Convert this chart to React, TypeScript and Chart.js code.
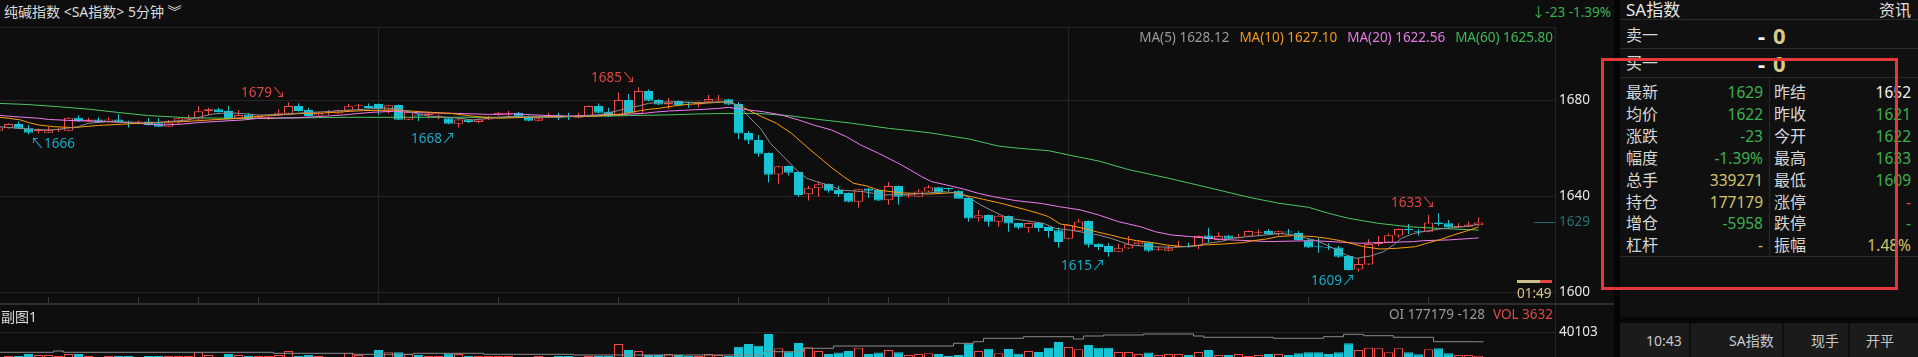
import React, { useEffect, useRef } from 'react';
import { Chart, registerables } from 'chart.js';

Chart.register(...registerables);

// ---------------- data ----------------
const openP = [
  1667.2, 1668.2, 1670.0, 1668.2, 1667.1, 1666.4, 1667.4, 1667.2, 1672.6, 1671.0,
  1671.9, 1670.8, 1671.9, 1671.0, 1670.6, 1671.0, 1670.3, 1668.9, 1670.7, 1672.0,
  1671.9, 1675.3, 1676.2, 1675.4, 1672.4, 1674.0, 1672.4, 1672.0, 1673.5, 1674.3,
  1677.5, 1675.8, 1673.5, 1674.8, 1674.4, 1675.6, 1677.4, 1677.5, 1678.3, 1675.6,
  1677.9, 1671.8, 1673.5, 1673.8, 1673.0, 1672.4, 1670.1, 1671.9, 1670.8, 1671.9,
  1673.6, 1674.3, 1674.7, 1673.1, 1671.4, 1672.9, 1673.7, 1673.0, 1672.6, 1673.1,
  1677.5, 1675.1, 1673.3, 1680.0, 1674.2, 1683.75, 1680.0, 1678.1, 1679.6, 1678.7,
  1678.1, 1679.3, 1680.2, 1680.3, 1678.3, 1666.25, 1663.3, 1657.9, 1649.0, 1652.5,
  1650.0, 1640.7, 1643.2, 1645.0, 1642.5, 1641.25, 1637.6, 1643.1, 1642.5, 1638.2,
  1644.2, 1639.9, 1639.7, 1641.9, 1643.6, 1643.0, 1642.2, 1639.2, 1630.7, 1632.1,
  1629.3, 1631.7, 1628.75, 1626.8, 1628.75, 1627.1, 1625.7, 1622.2, 1625.3, 1629.6,
  1620.1, 1619.2, 1616.8, 1618.1, 1619.9, 1620.7, 1617.4, 1617.2, 1618.8, 1619.1,
  1619.3, 1623.5, 1621.7, 1623.5, 1622.5, 1623.1, 1624.7, 1625.4, 1624.2, 1624.9,
  1624.6, 1621.5, 1618.7, 1618.3, 1618.5, 1615.0, 1609.4, 1611.5, 1619.9, 1620.6,
  1623.5, 1625.9, 1625.2, 1625.1, 1629.0, 1628.6, 1627.0, 1627.2, 1627.8,
];
const highP = [
  1668.9, 1670.3, 1671.0, 1669.6, 1668.1, 1668.9, 1668.2, 1672.8, 1673.6, 1672.6,
  1672.8, 1672.8, 1674.3, 1671.4, 1671.5, 1672.5, 1672.4, 1671.7, 1672.6, 1673.8,
  1677.5, 1676.8, 1676.8, 1677.5, 1675.8, 1674.6, 1673.9, 1673.2, 1676.1, 1679.0,
  1678.5, 1676.7, 1675.0, 1675.8, 1676.0, 1678.3, 1678.3, 1678.5, 1678.5, 1678.0,
  1678.1, 1675.3, 1674.5, 1674.5, 1673.9, 1672.6, 1672.1, 1672.1, 1672.3, 1673.4,
  1675.0, 1675.4, 1675.0, 1673.5, 1672.6, 1674.7, 1674.7, 1674.7, 1674.7, 1677.7,
  1678.5, 1676.8, 1683.1, 1682.5, 1685.3, 1684.4, 1680.3, 1680.8, 1679.8, 1679.3,
  1679.5, 1682.1, 1682.1, 1680.5, 1679.2, 1667.1, 1665.4, 1658.1, 1652.6, 1652.7,
  1650.2, 1644.2, 1646.0, 1645.2, 1644.3, 1641.5, 1643.0, 1643.3, 1642.7, 1645.8,
  1644.4, 1641.1, 1642.9, 1644.6, 1643.8, 1643.4, 1642.4, 1639.4, 1634.2, 1632.3,
  1632.0, 1631.9, 1629.0, 1629.0, 1629.0, 1627.3, 1626.9, 1628.0, 1630.4, 1629.8,
  1620.3, 1620.3, 1620.0, 1623.3, 1621.7, 1620.9, 1618.9, 1619.3, 1621.4, 1620.5,
  1623.5, 1626.8, 1624.9, 1623.7, 1624.2, 1625.6, 1626.1, 1626.2, 1625.5, 1626.2,
  1625.4, 1622.4, 1622.4, 1620.3, 1619.2, 1615.2, 1614.0, 1622.0, 1623.3, 1624.4,
  1626.45, 1628.3, 1626.1, 1632.1, 1632.8, 1630.0, 1628.6, 1629.5, 1631.0,
];
const lowP = [
  1666.9, 1668.0, 1667.9, 1665.6, 1666.0, 1666.2, 1666.7, 1667.0, 1670.8, 1670.8,
  1670.5, 1670.6, 1670.5, 1668.5, 1669.9, 1669.4, 1668.7, 1668.7, 1669.6, 1671.0,
  1671.7, 1673.8, 1674.8, 1671.9, 1672.2, 1671.8, 1672.2, 1671.8, 1673.3, 1674.1,
  1675.2, 1672.6, 1673.3, 1673.8, 1674.2, 1675.4, 1676.1, 1676.5, 1673.9, 1674.4,
  1671.6, 1671.6, 1671.3, 1672.4, 1672.0, 1669.9, 1668.5, 1670.4, 1670.3, 1671.7,
  1673.4, 1673.1, 1672.9, 1671.2, 1671.0, 1672.4, 1671.7, 1671.7, 1672.4, 1672.9,
  1674.5, 1672.9, 1673.1, 1674.2, 1674.0, 1679.5, 1677.9, 1676.25, 1677.7, 1676.8,
  1677.0, 1679.1, 1679.6, 1677.9, 1663.75, 1661.7, 1656.4, 1645.6, 1645.1, 1648.5,
  1639.7, 1638.1, 1639.7, 1641.4, 1639.7, 1637.4, 1635.1, 1639.3, 1637.9, 1636.4,
  1636.4, 1639.3, 1639.5, 1641.7, 1641.2, 1642.0, 1638.7, 1629.3, 1629.3, 1627.2,
  1627.2, 1625.1, 1626.1, 1624.7, 1625.1, 1622.6, 1618.5, 1622.0, 1625.1, 1618.5,
  1617.5, 1614.7, 1616.6, 1617.9, 1619.7, 1616.7, 1617.2, 1617.0, 1618.5, 1618.4,
  1617.8, 1620.6, 1621.5, 1622.0, 1622.3, 1622.9, 1623.4, 1624.0, 1623.4, 1623.7,
  1621.5, 1618.3, 1616.4, 1617.5, 1614.3, 1609.0, 1608.5, 1611.3, 1619.2, 1620.4,
  1622.4, 1624.2, 1623.5, 1624.9, 1627.6, 1626.8, 1626.8, 1627.0, 1627.6,
];
const closeP = [
  1668.5, 1670.0, 1668.1, 1666.4, 1667.2, 1667.5, 1667.5, 1672.6, 1671.0, 1671.9,
  1670.7, 1671.9, 1670.7, 1670.3, 1670.7, 1669.6, 1668.9, 1670.6, 1672.4, 1672.1,
  1675.3, 1676.1, 1675.0, 1672.1, 1673.8, 1672.0, 1673.3, 1672.8, 1674.7, 1677.5,
  1675.4, 1673.3, 1674.7, 1674.9, 1675.7, 1677.4, 1677.5, 1676.7, 1676.2, 1677.8,
  1671.8, 1675.1, 1673.2, 1674.1, 1673.3, 1670.1, 1671.9, 1670.8, 1671.9, 1673.0,
  1674.7, 1674.4, 1673.1, 1671.4, 1672.4, 1673.0, 1672.8, 1672.9, 1673.3, 1677.5,
  1674.7, 1673.1, 1680.0, 1674.4, 1683.75, 1679.7, 1678.1, 1679.0, 1677.9, 1678.6,
  1679.3, 1680.4, 1680.3, 1678.1, 1666.0, 1663.1, 1657.6, 1648.9, 1652.4, 1649.7,
  1640.4, 1643.2, 1644.9, 1642.2, 1640.8, 1637.6, 1642.8, 1642.2, 1638.1, 1644.2,
  1639.7, 1640.0, 1641.9, 1643.6, 1641.4, 1642.9, 1638.9, 1630.6, 1632.0, 1629.3,
  1631.8, 1628.5, 1626.8, 1628.75, 1626.7, 1625.4, 1620.8, 1627.8, 1629.4, 1619.7,
  1618.75, 1616.7, 1618.2, 1619.9, 1621.0, 1617.2, 1617.5, 1618.2, 1618.9, 1618.6,
  1623.3, 1622.1, 1623.3, 1622.2, 1622.8, 1625.4, 1624.8, 1624.2, 1625.3, 1624.8,
  1621.7, 1618.5, 1618.6, 1618.2, 1614.7, 1609.2, 1611.7, 1620.0, 1620.7, 1623.6,
  1626.25, 1625.8, 1625.1, 1629.0, 1628.3, 1627.0, 1627.6, 1628.1, 1629.0,
];
const volume = [
  1500, 3100, 3100, 6200, 4600, 4600, 3100, 6200, 6200, 3100,
  1400, 3100, 3100, 3100, 1400, 3100, 3100, 3100, 3100, 3100,
  8800, 4600, 1400, 6200, 4600, 3100, 3100, 3100, 4600, 10800,
  3100, 4600, 3100, 1400, 1400, 7200, 4600, 1400, 12300, 9000,
  9000, 6200, 4600, 3100, 3100, 7200, 6200, 3100, 3100, 3100,
  3100, 3100, 1400, 1400, 3100, 1400, 3100, 3100, 1400, 3100,
  3100, 3100, 21600, 12300, 10800, 4600, 4600, 6200, 4600, 3100,
  3100, 6200, 4600, 3100, 17400, 21600, 19000, 37000, 14900, 9800,
  23100, 16400, 10800, 6200, 8300, 10800, 16000, 6200, 8300, 12300,
  9000, 4600, 6200, 7200, 6200, 3100, 4600, 22600, 10800, 14400,
  7200, 13900, 6700, 10800, 9300, 16000, 24700, 16900, 13400, 20000,
  16000, 16000, 9300, 9300, 6200, 8300, 4600, 6200, 6200, 4600,
  9300, 12300, 4600, 4600, 6200, 3100, 4600, 6200, 6200, 4600,
  7200, 8800, 8800, 6200, 8800, 22600, 12300, 16000, 14900, 8800,
  14900, 8800, 5700, 13400, 14900, 7200, 4600, 4600, 3632,
];
const ma5 = [
  [0, 1668.9], [2, 1668.2], [3.5, 1667.8], [5, 1667.5], [6, 1667.8], [8, 1668.9], [9, 1670.3], [11, 1671.0],
  [13, 1670.7], [15, 1670.3], [17, 1671.0], [19, 1671.7], [20.5, 1673.3], [21.5, 1674.2], [23, 1674.7], [24.5, 1674.3],
  [26, 1673.75], [28.5, 1674.0], [30.5, 1674.7], [32.5, 1675.1], [34.5, 1675.6], [36.5, 1676.1], [38.5, 1676.7],
  [40, 1676.25], [41, 1675.1], [42, 1674.2], [43, 1673.3], [45.5, 1672.6], [47.5, 1671.7], [49.5, 1672.6], [51, 1673.1],
  [56, 1672.8], [60, 1673.75], [61, 1674.7], [62, 1675.6], [63, 1676.8], [64, 1677.5], [65, 1678.6], [66, 1679.0],
  [67.5, 1679.3], [70, 1678.9], [72.5, 1679.3], [73.5, 1678.6], [74.2, 1677.2], [75, 1673.1], [76.2, 1668.2],
  [77.2, 1661.9], [78.5, 1656.4], [79.8, 1650.8], [80.8, 1647.4], [81.8, 1646.0], [83, 1644.6], [84.2, 1642.5],
  [86.5, 1641.8], [87.5, 1641.1], [88.5, 1640.4], [91.5, 1640.8], [94.5, 1641.8], [96.2, 1641.1], [97.2, 1639.0],
  [98.2, 1636.3], [99.2, 1634.2], [100.2, 1632.2], [101, 1630.7], [102.8, 1629.7], [104.5, 1628.6], [105.7, 1626.5],
  [107.2, 1625.8], [110, 1623.75], [111.2, 1622.4], [112.2, 1621.0], [113.2, 1619.6], [115.2, 1618.9], [117.5, 1618.6],
  [119.8, 1619.2], [120.8, 1620.3], [122.2, 1621.0], [123.5, 1622.4], [125, 1623.1], [126.7, 1623.75], [128.2, 1624.4],
  [129.5, 1623.75], [130.8, 1622.4], [131.8, 1621.4], [132.8, 1619.6], [133.8, 1617.5], [134.8, 1615.4], [135.8, 1614.0],
  [137.2, 1615.0], [138.5, 1616.8], [139.5, 1619.6], [140.3, 1622.4], [141.5, 1624.4], [142.8, 1625.4], [144.5, 1626.5],
  [146.5, 1627.2], [148, 1628.12],
];
const ma10 = [
  [0, 1672.8], [1, 1672.4], [2.2, 1671.7], [3, 1670.6], [4, 1669.6], [5.5, 1668.9], [7.5, 1668.5], [10, 1669.4],
  [12.3, 1669.9], [15.2, 1670.6], [18.5, 1671.0], [21.2, 1671.7], [24.3, 1672.4], [25.7, 1673.1], [28, 1673.75],
  [30, 1674.3], [32.5, 1674.6], [34.5, 1675.1], [36.5, 1675.6], [39.8, 1675.8], [42.3, 1675.1], [45.3, 1674.4],
  [47.3, 1673.3], [49.2, 1672.6], [50, 1672.4], [52.8, 1672.8], [56.3, 1673.1], [59.5, 1673.3], [61, 1673.75],
  [62.5, 1674.2], [63.3, 1674.9], [64.2, 1675.6], [65, 1676.1], [66, 1676.5], [67.5, 1677.5], [69, 1678.2],
  [71.5, 1678.9], [73, 1679.3], [73.8, 1677.9], [74.5, 1676.9], [75, 1675.8], [76.3, 1673.1], [77.8, 1670.3],
  [79.3, 1666.1], [80.8, 1660.6], [82, 1656.4], [83.2, 1652.2], [84.5, 1648.1], [85.5, 1645.3], [86.8, 1644.2],
  [88, 1642.5], [90, 1641.4], [93, 1640.8], [95.5, 1641.4], [97.3, 1639.7], [98.5, 1638.6], [100, 1637.2],
  [101.5, 1635.6], [102.8, 1634.2], [104, 1632.8], [105, 1631.4], [106.2, 1628.3], [107, 1627.9], [108.5, 1626.5],
  [109.8, 1625.1], [111.2, 1623.75], [112.5, 1622.4], [113.8, 1621.4], [115.3, 1620.6], [116.8, 1619.6], [118.5, 1618.9],
  [120.5, 1619.6], [122.5, 1620.0], [124.5, 1620.6], [125.5, 1621.4], [126.8, 1622.1], [128, 1623.1], [129.5, 1623.5],
  [131.5, 1623.1], [132.8, 1622.4], [134.2, 1621.4], [135.5, 1620.0], [136.5, 1618.9], [138.2, 1617.9], [139.8, 1618.2],
  [141.7, 1618.9], [142.8, 1620.3], [144.2, 1621.9], [145.5, 1623.75], [146.8, 1625.4], [148, 1627.1],
];
const ma20 = [
  [0, 1673.6], [1.5, 1673.1], [4, 1672.4], [5, 1671.9], [7, 1671.5], [9.5, 1671.2], [12, 1670.8], [14.5, 1670.1],
  [16.5, 1669.6], [18.5, 1670.0], [20, 1670.6], [22, 1671.1], [24.5, 1671.7], [26, 1672.4], [29.8, 1672.6],
  [32, 1673.1], [34.5, 1673.75], [36, 1674.4], [37.5, 1674.9], [39.5, 1675.3], [42, 1674.7], [46, 1674.4],
  [49, 1674.0], [51.5, 1674.2], [54.5, 1673.6], [57, 1673.3], [60, 1673.75], [62.5, 1674.0], [64.5, 1674.4],
  [65.5, 1674.9], [67, 1675.4], [68.5, 1675.7], [70.5, 1676.1], [72, 1676.5], [73, 1676.9], [74.5, 1676.1],
  [76.5, 1675.1], [78.3, 1673.75], [80, 1671.7], [81.5, 1669.6], [83.3, 1667.5], [84.8, 1664.7], [86.2, 1661.3],
  [88, 1657.8], [90, 1653.6], [91.2, 1650.8], [92.3, 1648.1], [93.3, 1646.0], [94.8, 1644.6], [96.5, 1642.9],
  [98, 1641.1], [99.5, 1639.7], [101.7, 1638.1], [104.3, 1636.9], [106, 1635.6], [108.2, 1634.2], [110, 1632.1],
  [112, 1629.3], [114.2, 1627.2], [115.7, 1625.1], [117.3, 1623.75], [119.2, 1623.1], [120.8, 1622.4], [123.3, 1621.7],
  [127, 1621.0], [131.5, 1621.4], [134.5, 1620.7], [136, 1620.3], [138.5, 1620.6], [141.5, 1621.0], [142.5, 1621.4],
  [145, 1621.7], [147.5, 1622.4], [148, 1622.56],
];
const ma60 = [
  [0, 1678.6], [3, 1678.1], [6, 1677.2], [9, 1676.2], [12, 1674.8], [15, 1673.5], [19, 1672.6], [25, 1672.3],
  [35, 1672.8], [50, 1672.8], [58, 1673.1], [63, 1673.5], [67, 1673.8], [70, 1674.2], [73, 1674.4], [76, 1674.4],
  [79, 1673.5], [82, 1671.9], [85, 1670.5], [89, 1668.2], [93, 1666.4], [97, 1663.8], [100, 1660.8], [102, 1659.9],
  [105, 1658.9], [107, 1657.1], [110, 1654.6], [113, 1651.0], [117, 1647.4], [121, 1643.5], [125, 1639.5],
  [128, 1637.0], [131, 1635.3], [133, 1632.8], [135, 1630.7], [138, 1628.6], [141, 1627.2], [144, 1626.5], [148, 1625.8],
];
const oiSteps = [
  [-0.5, 168760], [5.5, 169800], [6.5, 168760], [27.5, 167960], [35.5, 167160], [41.5, 167960], [48.5, 167160],
  [57.5, 166600], [76.5, 169240], [80.5, 171960], [83.5, 173800], [95.5, 175960], [97.5, 177240], [98.5, 179960],
  [102.5, 181240], [107.5, 179400], [108.5, 181800], [110.5, 182600], [114.5, 183400], [119.5, 181800],
  [120.5, 180760], [127.5, 179960], [132.5, 181240], [134.5, 183160], [136.5, 182040], [139.5, 180760],
  [143.5, 177240], [147.5, 177179], [148.5, 177179],
];
const timeTicks = [5, 14, 20, 26, 38, 50, 62, 74, 83, 89, 95, 107, 119, 131, 143];
const dayBreaks = [38, 107];
const priceTicks = [1600, 1640, 1680];
const volTicks = [40103];
const highMarks = [{ k: 29, v: 1679 }, { k: 64, v: 1685 }, { k: 144, v: 1633 }];
const lowMarks = [
  { k: 3, v: 1666, side: 'right' },
  { k: 46, v: 1668, side: 'left' },
  { k: 111, v: 1615, side: 'left' },
  { k: 136, v: 1609, side: 'left' },
];
const lastPrice = 1629;
const maLegend = [
  { label: 'MA(5) 1628.12', color: '#9a9a9a' },
  { label: 'MA(10) 1627.10', color: '#f39a1c' },
  { label: 'MA(20) 1622.56', color: '#e47ce4' },
  { label: 'MA(60) 1625.80', color: '#3fb95a' },
];
const quoteLeft = [
  ['最新', '1629', 'g'], ['均价', '1622', 'g'], ['涨跌', '-23', 'g'], ['幅度', '-1.39%', 'g'],
  ['总手', '339271', 'y'], ['持仓', '177179', 'y'], ['增仓', '-5958', 'g'], ['杠杆', '-', 'y'],
];
const quoteRight = [
  ['昨结', '1652', 'w'], ['昨收', '1621', 'g'], ['今开', '1622', 'g'], ['最高', '1633', 'g'],
  ['最低', '1609', 'g'], ['涨停', '-', 'r'], ['跌停', '-', 'g'], ['振幅', '1.48%', 'y'],
];
const bottomTabs = [
  { text: '10:43', x: 1646 }, { text: 'SA指数', x: 1729 }, { text: '现手', x: 1811 }, { text: '开平', x: 1866 },
];

// ---------------- style ----------------
const FONT = "'Noto Sans', 'Noto Sans CJK SC', 'DejaVu Sans', sans-serif";
const BG = '#0e0e0e';
const GRID = '#262626';
const RED = '#f04b47';
const TEAL = '#17c4d4';
const RED_TXT = '#dc4842';
const TEAL_TXT = '#18aac6';
const GREEN_TXT = '#3db04f';
const YEL_TXT = '#d3c26e';
const COLORS: Record<string, string> = { g: GREEN_TXT, y: YEL_TXT, w: '#f0f0f0', r: '#e04242' };

Chart.defaults.font.family = FONT;

const idx = closeP.map((_, i) => i);
const isUp = (i: number) => closeP[i] >= openP[i];
const X_MIN = 0.15;
const X_MAX = 155.65;

const mainPlugin = {
  id: 'mainMarks',
  afterDatasetsDraw(chart: any) {
    const { ctx, chartArea } = chart;
    const xs = chart.scales.x;
    const ys = chart.scales.y;
    ctx.save();
    ctx.font = `13.5px ${FONT}`;
    ctx.textBaseline = 'middle';
    highMarks.forEach((m) => {
      ctx.fillStyle = RED_TXT;
      ctx.textAlign = 'right';
      ctx.fillText(`${m.v}↘`, xs.getPixelForValue(m.k) - 3, ys.getPixelForValue(m.v) - 9.5);
    });
    lowMarks.forEach((m) => {
      ctx.fillStyle = TEAL_TXT;
      const px = xs.getPixelForValue(m.k);
      const py = ys.getPixelForValue(m.v) + 10.5;
      if (m.side === 'right') {
        ctx.textAlign = 'left';
        ctx.fillText(`↖${m.v}`, px + 2, py);
      } else {
        ctx.textAlign = 'right';
        ctx.fillText(`${m.v}↗`, px - 3, py);
      }
    });
    // last price marker
    const yp = ys.getPixelForValue(lastPrice);
    ctx.strokeStyle = '#1f6a6a';
    ctx.lineWidth = 1;
    ctx.beginPath();
    ctx.moveTo(chartArea.right - 21, Math.round(yp) + 0.5);
    ctx.lineTo(chartArea.right, Math.round(yp) + 0.5);
    ctx.stroke();
    ctx.fillStyle = '#2a7272';
    ctx.textAlign = 'left';
    ctx.fillText(String(lastPrice), chartArea.right + 4, yp);
    // time ticks in the time strip
    timeTicks.forEach((t) => {
      const px = Math.floor(xs.getPixelForValue(t)) + 0.5;
      const major = dayBreaks.includes(t);
      ctx.strokeStyle = major ? GRID : '#3a3a3a';
      ctx.beginPath();
      ctx.moveTo(px, chartArea.bottom + (major ? 0 : 5));
      ctx.lineTo(px, chartArea.bottom + 12);
      ctx.stroke();
    });
    ctx.restore();
  },
};

const plainTick = (v: any) => String(v);

function mainConfig(): any {
  const line = (data: number[][], color: string) => ({
    type: 'line',
    data: data.map(([x, y]) => ({ x, y })),
    borderColor: color,
    borderWidth: 1,
    pointRadius: 0,
    order: 0,
  });
  return {
    data: {
      datasets: [
        line(ma5, '#8e8e8e'),
        line(ma10, '#ff9a0a'),
        line(ma20, '#f07cf0'),
        line(ma60, '#4cc764'),
        {
          type: 'bar',
          data: idx.map((i) => ({ x: i, y: [Math.min(openP[i], closeP[i]), Math.max(openP[i], closeP[i])] })),
          backgroundColor: (c: any) => (isUp(c.dataIndex) ? BG : TEAL),
          borderColor: (c: any) => (isUp(c.dataIndex) ? RED : TEAL),
          borderWidth: 1,
          borderSkipped: false,
          grouped: false,
          barPercentage: 0.9,
          categoryPercentage: 1,
          minBarLength: 1,
          inflateAmount: 0,
          order: 1,
        },
        {
          type: 'bar',
          data: idx.map((i) => ({ x: i, y: [lowP[i], highP[i]] })),
          backgroundColor: (c: any) => (isUp(c.dataIndex) ? RED : TEAL),
          borderWidth: 0,
          grouped: false,
          barPercentage: 0.9,
          categoryPercentage: 1,
          maxBarThickness: 1,
          inflateAmount: 0,
          order: 2,
        },
      ],
    },
    options: {
      animation: false,
      responsive: false,
      maintainAspectRatio: false,
      devicePixelRatio: 1,
      events: [],
      layout: { padding: 0 },
      plugins: { legend: { display: false }, tooltip: { enabled: false } },
      scales: {
        x: {
          type: 'linear',
          offset: false,
          min: X_MIN,
          max: X_MAX,
          afterBuildTicks: (s: any) => { s.ticks = timeTicks.map((v) => ({ value: v })); },
          afterFit: (s: any) => { s.height = 12; s.paddingLeft = 0; s.paddingRight = 0; },
          ticks: { display: false },
          grid: {
            offset: false,
            color: (c: any) => (c.tick && dayBreaks.includes(c.tick.value) ? GRID : 'rgba(0,0,0,0)'),
            drawTicks: false,
          },
          border: { color: GRID },
        },
        y: {
          type: 'linear',
          position: 'right',
          min: 1600,
          max: 1710.42,
          afterBuildTicks: (s: any) => { s.ticks = priceTicks.map((v) => ({ value: v })); },
          afterFit: (s: any) => { s.width = 59; s.paddingTop = 0; s.paddingBottom = 0; },
          ticks: { color: '#e8e8e8', font: { size: 13.5, family: FONT }, padding: 4, callback: plainTick },
          grid: { color: GRID, drawTicks: false },
          border: { color: GRID },
        },
      },
    },
    plugins: [mainPlugin],
  };
}

function subConfig(): any {
  return {
    data: {
      datasets: [
        {
          type: 'line',
          yAxisID: 'oi',
          data: oiSteps.map(([x, y]) => ({ x, y })),
          stepped: 'before',
          borderColor: '#8a8a8a',
          borderWidth: 1,
          pointRadius: 0,
          order: 0,
        },
        {
          type: 'bar',
          yAxisID: 'y',
          data: idx.map((i) => ({ x: i, y: volume[i] })),
          backgroundColor: (c: any) => (isUp(c.dataIndex) ? BG : TEAL),
          borderColor: (c: any) => (isUp(c.dataIndex) ? RED : TEAL),
          borderWidth: 1,
          borderSkipped: false,
          grouped: false,
          barPercentage: 0.9,
          categoryPercentage: 1,
          inflateAmount: 0,
          order: 1,
        },
      ],
    },
    options: {
      animation: false,
      responsive: false,
      maintainAspectRatio: false,
      devicePixelRatio: 1,
      events: [],
      layout: { padding: { top: 28, left: 0, right: 0, bottom: 0 } },
      plugins: { legend: { display: false }, tooltip: { enabled: false } },
      scales: {
        x: { type: 'linear', display: false, offset: false, min: X_MIN, max: X_MAX },
        y: {
          type: 'linear',
          position: 'right',
          min: 0,
          max: 40103,
          afterBuildTicks: (s: any) => { s.ticks = volTicks.map((v) => ({ value: v })); },
          afterFit: (s: any) => { s.width = 59; s.paddingTop = 0; s.paddingBottom = 0; },
          ticks: { color: '#e8e8e8', font: { size: 13.5, family: FONT }, padding: 4, callback: plainTick },
          grid: { color: GRID, drawTicks: false },
          border: { color: GRID },
        },
        oi: { type: 'linear', position: 'right', display: false, min: 164200, max: 185000 },
      },
    },
  };
}

// ---------------- helpers ----------------
type TxtProps = {
  x: number; cy: number; text: string; color?: string; size?: number; align?: 'left' | 'right'; weight?: number;
};
function Txt({ x, cy, text, color = '#d8d8d8', size = 14, align = 'left', weight = 400 }: TxtProps) {
  const lh = 20;
  const style: React.CSSProperties = {
    position: 'absolute',
    top: cy - lh / 2,
    height: lh,
    lineHeight: `${lh}px`,
    fontSize: size,
    fontWeight: weight,
    color,
    whiteSpace: 'nowrap',
    fontFamily: FONT,
  };
  if (align === 'left') style.left = x; else style.right = 1918 - x;
  return <div style={style}>{text}</div>;
}
function Box({ x, y, w, h, bg }: { x: number; y: number; w: number; h: number; bg: string }) {
  return <div style={{ position: 'absolute', left: x, top: y, width: w, height: h, background: bg }} />;
}

export default function App() {
  const mainRef = useRef<HTMLCanvasElement>(null);
  const subRef = useRef<HTMLCanvasElement>(null);

  useEffect(() => {
    document.body.style.margin = '0';
    document.body.style.overflow = 'hidden';
    document.body.style.background = BG;
    const main = new Chart(mainRef.current as HTMLCanvasElement, mainConfig());
    const sub = new Chart(subRef.current as HTMLCanvasElement, subConfig());
    return () => {
      main.destroy();
      sub.destroy();
    };
  }, []);

  const rowY = (i: number) => 92 + 21.9 * i;

  return (
    <div style={{ position: 'fixed', left: 0, top: 0, width: 1918, height: 357, overflow: 'hidden', background: BG, fontFamily: FONT }}>
      {/* canvases */}
      <canvas ref={mainRef} width={1614} height={277} style={{ position: 'absolute', left: 0, top: 27, width: 1614, height: 277 }} />
      <canvas ref={subRef} width={1614} height={54} style={{ position: 'absolute', left: 0, top: 304, width: 1614, height: 54 }} />

      {/* header */}
      <Txt x={4} cy={12} text={'纯碱指数 <SA指数> 5分钟 ︾'} color="#dcdcdc" size={14} />
      <Txt x={1611} cy={12} text="↓-23 -1.39%" color={GREEN_TXT} size={13.5} align="right" />
      <Box x={0} y={27} w={1556} h={1} bg={GRID} />
      <div style={{ position: 'absolute', right: 1918 - 1553, top: 27, height: 20, lineHeight: '20px', display: 'flex', gap: 10, fontSize: 13.5, whiteSpace: 'nowrap' }}>
        {maLegend.map((m) => (
          <span key={m.label} style={{ color: m.color }}>{m.label}</span>
        ))}
      </div>

      {/* countdown */}
      <Box x={1517} y={280} w={23} h={3} bg="#cdbf8c" />
      <Box x={1540} y={280} w={12} h={3} bg="#e04848" />
      <Txt x={1517} cy={293} text="01:49" color="#d6c58c" size={13.5} />

      {/* separators */}
      <Box x={1555} y={292} w={1} h={66} bg={GRID} />
      <Box x={0} y={303} w={1614} h={2} bg="#2e2e2e" />

      {/* sub chart header */}
      <Txt x={1} cy={317} text="副图1" color="#dedede" size={14} />
      <div style={{ position: 'absolute', right: 1918 - 1553, top: 304, height: 20, lineHeight: '20px', fontSize: 13.5, whiteSpace: 'nowrap' }}>
        <span style={{ color: '#9a9a9a' }}>OI 177179 -128</span>
        <span style={{ color: '#e04a44', marginLeft: 8 }}>VOL 3632</span>
      </div>

      {/* right panel */}
      <Box x={1614} y={0} w={6} h={357} bg="#050505" />
      <Box x={1620} y={0} w={298} h={357} bg="#101010" />
      <Txt x={1626} cy={10} text="SA指数" color="#e6e6e6" size={17} />
      <Txt x={1911} cy={10} text="资讯" color="#dedede" size={16} align="right" />
      <Box x={1620} y={19} w={298} h={1} bg="#2a2a2a" />
      <Txt x={1626} cy={35} text="卖一" color="#d6d6d6" size={16} />
      <Txt x={1765} cy={35} text="-" color="#f0f0f0" size={22} weight={700} align="right" />
      <Txt x={1773} cy={35} text="0" color="#d8c98c" size={22} weight={700} />
      <Box x={1620} y={48} w={298} h={1} bg="#2a2a2a" />
      <Txt x={1626} cy={63} text="买一" color="#d6d6d6" size={16} />
      <Txt x={1765} cy={63} text="-" color="#f0f0f0" size={22} weight={700} align="right" />
      <Txt x={1773} cy={63} text="0" color="#d8c98c" size={22} weight={700} />
      <Box x={1620} y={77} w={298} h={1} bg="#2a2a2a" />
      <Box x={1769} y={78} w={1} h={178} bg="#2a2a2a" />
      {quoteLeft.map(([l, v, c], i) => (
        <React.Fragment key={'l' + l}>
          <Txt x={1626} cy={rowY(i)} text={l} color="#d6d6d6" size={16} />
          <Txt x={1763} cy={rowY(i)} text={v} color={COLORS[c]} size={15.5} align="right" />
        </React.Fragment>
      ))}
      {quoteRight.map(([l, v, c], i) => (
        <React.Fragment key={'r' + l}>
          <Txt x={1774} cy={rowY(i)} text={l} color="#d6d6d6" size={16} />
          <Txt x={1911} cy={rowY(i)} text={v} color={COLORS[c]} size={15.5} align="right" />
        </React.Fragment>
      ))}
      <Box x={1620} y={256} w={298} h={1} bg="#2a2a2a" />
      <Box x={1620} y={317} w={298} h={6} bg="#070707" />
      <Box x={1620} y={323} w={298} h={34} bg="#1b1b1b" />
      <Box x={1689} y={323} w={2} h={34} bg="#0d0d0d" />
      <Box x={1782} y={323} w={2} h={34} bg="#0d0d0d" />
      <Box x={1848} y={323} w={2} h={34} bg="#0d0d0d" />
      {bottomTabs.map((t) => (
        <Txt key={t.text} x={t.x} cy={341} text={t.text} color="#c9c9c9" size={14} />
      ))}

      {/* red highlight rectangle */}
      <div style={{ position: 'absolute', left: 1601, top: 58, width: 297, height: 232, border: '3px solid #e5383b', boxSizing: 'border-box', pointerEvents: 'none' }} />
    </div>
  );
}
